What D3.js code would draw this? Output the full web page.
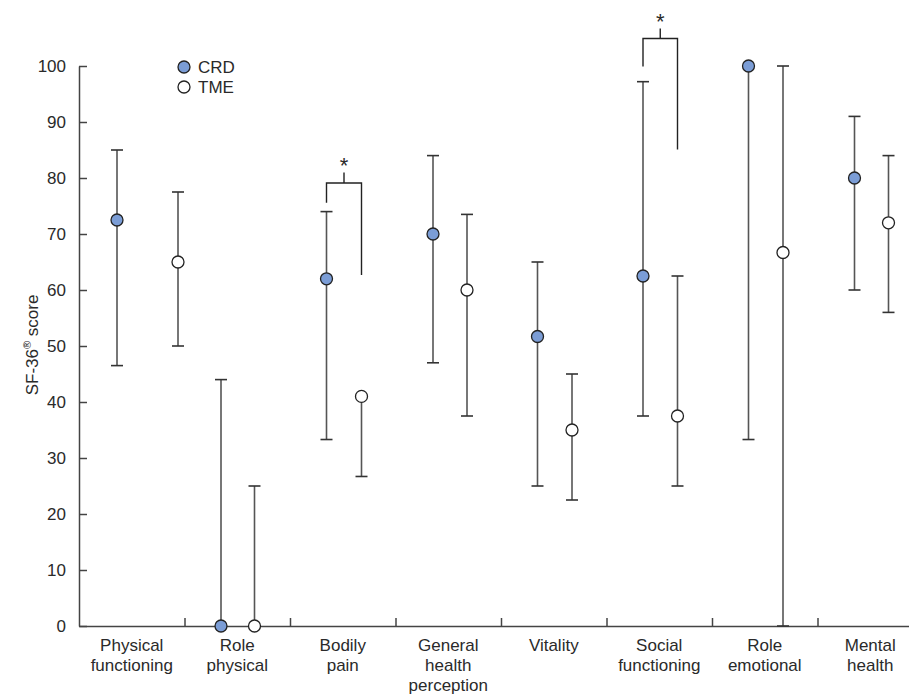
<!DOCTYPE html>
<html>
<head>
<meta charset="utf-8">
<script src="https://cdn.jsdelivr.net/npm/d3@7"></script>
<style>
  body { margin: 0; background: #fff; }
  svg { display: block; font-family: "Liberation Sans", Arial, sans-serif; }
  text { fill: #2a2a2a; }
</style>
</head>
<body>
<div id="chart"></div>
<script>
const W = 909, H = 695;

// categories (x labels, split on lines)
const categories = [
  ["Physical", "functioning"],
  ["Role", "physical"],
  ["Bodily", "pain"],
  ["General", "health", "perception"],
  ["Vitality"],
  ["Social", "functioning"],
  ["Role", "emotional"],
  ["Mental", "health"]
];

// medians and ranges per category
const crdMid  = [72.5, 0, 62, 70, 51.7, 62.5, 100, 80];
const crdLow  = [46.5, 0, 33.3, 47, 25, 37.5, 33.3, 60];
const crdHigh = [85, 44, 74, 84, 65, 97.2, 100, 91];

const tmeMid  = [65, 0, 41, 60, 35, 37.5, 66.7, 72];
const tmeLow  = [50, 0, 26.7, 37.5, 22.5, 25, 0, 56];
const tmeHigh = [77.5, 25, 41, 73.5, 45, 62.5, 100, 84];

const yTicks = [0, 10, 20, 30, 40, 50, 60, 70, 80, 90, 100];

// significance brackets: category index, bar level, left leg end, right leg end, stem top
const sigCat   = [2, 5];
const sigLevel = [79.1, 104.9];
const sigLeft  = [75.6, 99.9];
const sigRight = [62.7, 85.1];
const sigTop   = [81, 106.7];

const crdColor = "#7b9dd6";
const lineColor = "#555";

// layout: where the two points sit inside each band (px from band start)
const crdOffset = [38, 36.5, 36.5, 37.5, 36.5, 36.5, 36.5, 37];
const tmeOffset = [99, 70, 71.5, 71.5, 71, 71, 71, 71];

const svg = d3.select("#chart").append("svg")
    .attr("width", W)
    .attr("height", H);

const y = d3.scaleLinear().domain([0, 100]).range([626, 66]);
const x = d3.scaleBand().domain(d3.range(categories.length)).range([79, 79 + 8 * 105.5]);
const xi = d3.scaleLinear().domain([0, 8]).range(x.range());

// y axis
const yAxis = svg.append("g")
    .attr("transform", "translate(79,0)")
    .call(d3.axisLeft(y).tickValues(yTicks).tickSize(-8).tickSizeOuter(0).tickPadding(13));
yAxis.selectAll("text").attr("font-size", 17).attr("font-family", "Liberation Sans, Arial, sans-serif").attr("fill", "#2a2a2a");
yAxis.selectAll("line,path").attr("stroke", "#444").attr("stroke-width", 1.5);

// x axis
const xAxis = svg.append("g")
    .attr("transform", "translate(0,626)")
    .call(d3.axisBottom(xi).tickValues(d3.range(1, 8)).tickSize(-8).tickSizeOuter(0).tickFormat(""));
xAxis.selectAll("line,path").attr("stroke", "#444").attr("stroke-width", 1.5);

// x labels
const lab = svg.append("g").selectAll("text")
    .data(categories)
    .join("text")
    .attr("text-anchor", "middle")
    .attr("font-size", 17)
    .attr("transform", (d, i) => `translate(${x(i) + x.bandwidth() / 2},651)`);
lab.selectAll("tspan")
    .data(d => d)
    .join("tspan")
    .attr("x", 0)
    .attr("dy", (d, i) => i === 0 ? 0 : 20)
    .text(d => d);

// y label
svg.append("text")
    .attr("transform", "translate(38,345) rotate(-90)")
    .attr("text-anchor", "middle")
    .attr("font-size", 17)
    .html('SF-36<tspan dy="-7" font-size="11">®</tspan><tspan dy="7"> score</tspan>');

// error bars
function drawSeries(mid, low, high, offset) {
  const gs = svg.append("g").selectAll("g")
      .data(mid.map((m, i) => ({ m, lo: low[i], hi: high[i], cx: x(i) + offset[i] })))
      .join("g");
  gs.append("line")
      .attr("x1", d => d.cx).attr("x2", d => d.cx)
      .attr("y1", d => y(d.lo)).attr("y2", d => y(d.hi))
      .attr("stroke", lineColor).attr("stroke-width", 1.6);
  [d => d.lo, d => d.hi].forEach(f => {
    gs.append("line")
        .attr("x1", d => d.cx - 6).attr("x2", d => d.cx + 6)
        .attr("y1", d => y(f(d))).attr("y2", d => y(f(d)))
        .attr("stroke", "#333").attr("stroke-width", 1.6);
  });
  return gs;
}
const crdG = drawSeries(crdMid, crdLow, crdHigh, crdOffset);
const tmeG = drawSeries(tmeMid, tmeLow, tmeHigh, tmeOffset);

[[crdG, crdColor], [tmeG, "#fff"]].forEach(([gs, fill]) => {
  gs.append("circle")
      .attr("cx", d => d.cx).attr("cy", d => y(d.m))
      .attr("r", 6)
      .attr("fill", fill)
      .attr("stroke", "#222")
      .attr("stroke-width", 1.3);
});

// significance brackets
sigCat.forEach((c, k) => {
  const xl = x(c) + crdOffset[c], xr = x(c) + tmeOffset[c], xm = (xl + xr) / 2;
  const p = d3.path();
  p.moveTo(xl, y(sigLeft[k]));
  p.lineTo(xl, y(sigLevel[k]));
  p.lineTo(xr, y(sigLevel[k]));
  p.lineTo(xr, y(sigRight[k]));
  p.moveTo(xm, y(sigLevel[k]));
  p.lineTo(xm, y(sigTop[k]));
  svg.append("path").attr("d", p.toString())
      .attr("fill", "none").attr("stroke", "#222").attr("stroke-width", 1.4);
  svg.append("text")
      .attr("x", xm).attr("y", y(sigTop[k]) + 1)
      .attr("text-anchor", "middle")
      .attr("font-size", 22)
      .attr("font-weight", 300)
      .attr("fill", "#444")
      .text("*");
});

// legend
const legend = svg.append("g");
[["CRD", crdColor], ["TME", "#fff"]].forEach(([name, fill], i) => {
  legend.append("circle")
      .attr("cx", 184).attr("cy", 67 + i * 20).attr("r", 6)
      .attr("fill", fill).attr("stroke", "#222").attr("stroke-width", 1.3);
  legend.append("text")
      .attr("x", 198).attr("y", 73 + i * 20)
      .attr("font-size", 17)
      .text(name);
});
</script>
</body>
</html>
